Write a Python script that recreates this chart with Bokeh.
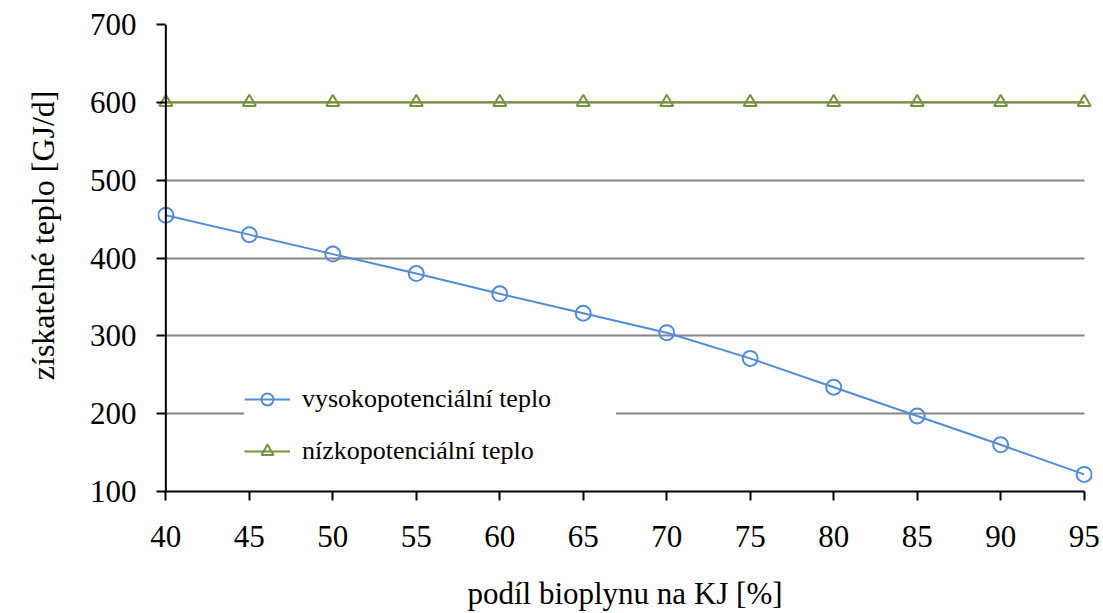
from bokeh.plotting import figure
from bokeh.models import FixedTicker, Range1d, Legend, LegendItem, Span, Title
from bokeh.embed import file_html
from bokeh.resources import INLINE

# data
podil = [40, 45, 50, 55, 60, 65, 70, 75, 80, 85, 90, 95]
vysoko = [455, 430, 405, 380, 354, 329, 304, 271, 234, 197, 160, 122]
nizko = [600, 600, 600, 600, 600, 600, 600, 600, 600, 600, 600, 600]
x_ticks = [40, 45, 50, 55, 60, 65, 70, 75, 80, 85, 90, 95]
y_ticks = [100, 200, 300, 400, 500, 600, 700]
label_vysoko = "vysokopotenciální teplo"
label_nizko = "nízkopotenciální teplo"
x_title = "podíl bioplynu na KJ [%]"
y_title = "získatelné teplo [GJ/d]"

FONT = "Liberation Serif"
BLUE = "#528CD8"
GREEN = "#76923C"

x_min, x_max = x_ticks[0], x_ticks[-1]
y_min, y_max = y_ticks[0], y_ticks[-1]

p = figure(width=1100, height=613, output_backend="svg", toolbar_location=None,
           x_range=Range1d(x_min - 0.5, x_max + 0.5), y_range=Range1d(y_min, y_max),
           min_border_left=157, min_border_right=8, min_border_top=24, min_border_bottom=122)
p.outline_line_color = None

p.xgrid.grid_line_color = None
g = p.ygrid[0]
g.ticker = FixedTicker(ticks=y_ticks)
g.grid_line_color = "#868686"
g.grid_line_width = 2
try:
    g.cross_bounds = (x_min, x_max)
except Exception:
    pass

# y axis line drawn at the first category position
p.add_layout(Span(location=x_min, dimension="height", line_color="black", line_width=2))

l1 = p.line(podil, vysoko, line_color=BLUE, line_width=2)
s1 = p.scatter(podil, vysoko, marker="circle", size=15, line_color=BLUE, line_width=2,
               fill_alpha=0)
l2 = p.line(podil, nizko, line_color=GREEN, line_width=2)
s2 = p.scatter(podil, nizko, marker="triangle", size=13, line_color=GREEN, line_width=2,
               fill_alpha=0)

# axes
for ax in (p.xaxis[0], p.yaxis[0]):
    ax.axis_line_color = "black"
    ax.axis_line_width = 2
    ax.major_tick_line_color = "black"
    ax.major_tick_line_width = 2
    ax.minor_tick_line_color = None
    ax.major_label_text_font = FONT
    ax.major_label_text_font_size = "31px"
    ax.major_label_text_color = "black"
    ax.axis_label_text_font = FONT
    ax.axis_label_text_font_size = "31px"
    ax.axis_label_text_font_style = "normal"
    ax.axis_label_text_color = "black"

xa, ya = p.xaxis[0], p.yaxis[0]
xa.ticker = FixedTicker(ticks=x_ticks)
ya.ticker = FixedTicker(ticks=y_ticks)
xa.bounds = (x_min, x_max)
xa.major_tick_out = 9
xa.major_tick_in = 0
ya.axis_line_color = None
ya.major_tick_out = 1
ya.major_tick_in = 8
xa.axis_label = x_title
xa.major_label_standoff = 25
ya.major_label_standoff = 20
xa.axis_label_standoff = 26

# y axis title (shifted slightly upward, as in the original)
yt = Title(text=y_title, align="right", offset=66, vertical_align="top", standoff=47,
           text_font=FONT, text_font_size="32px", text_font_style="normal",
           text_color="black")
p.add_layout(yt, "left")

legend = Legend(items=[LegendItem(label=label_vysoko, renderers=[l1, s1]),
                       LegendItem(label=label_nizko, renderers=[l2, s2])],
                location=(87, 25))
legend.label_text_font = FONT
legend.label_text_font_size = "26px"
legend.label_text_color = "black"
legend.glyph_width = 46
legend.glyph_height = 30
legend.label_height = 30
legend.label_width = 314
legend.label_standoff = 12
legend.spacing = 22
legend.padding = 10
legend.margin = 0
legend.border_line_color = None
legend.background_fill_color = "white"
legend.background_fill_alpha = 1
p.add_layout(legend, "center")

open("out.html", "w").write(file_html(p, INLINE))
